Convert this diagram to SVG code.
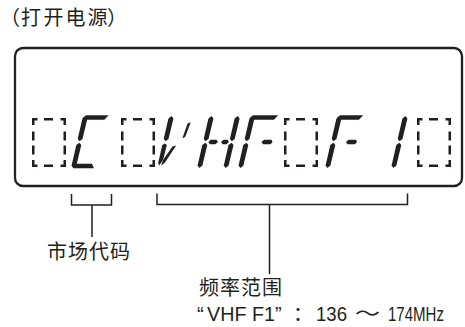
<svg xmlns="http://www.w3.org/2000/svg" xmlns:xlink="http://www.w3.org/1999/xlink" width="465" height="327" viewBox="0 0 465 327">
<style>
.txt{font-family:"Noto Sans CJK SC","Liberation Sans",sans-serif;font-size:20px;fill:#231f20}
.lat{font-family:"Liberation Sans","Noto Sans CJK SC",sans-serif;font-size:20px;fill:#231f20}
.seg{fill:#231f20}
.ln{stroke:#231f20;stroke-width:1.5;fill:none}
.box path{stroke:#231f20;stroke-width:2.5;fill:none;stroke-linecap:butt;stroke-linejoin:miter}
</style>
<defs>
<polygon id="vu" points="2.5,-26 5,-23.5 4.8,-3 2.4,-0.8 0,-3 0,-23.5"/>
<polygon id="vl" points="2.5,0.8 5,3 4.8,23.5 2.4,26 0,23.5 0,3"/>
<g id="dbox" class="box">
<path d="M1.25,7 V1.25 H5.5"/>
<path d="M12,1.25 H21"/>
<path d="M28.5,1.25 H32.75 V7"/>
<path d="M1.25,13.5 V22.5 M1.25,27.5 V36.5"/>
<path d="M32.75,13.5 V22.5 M32.75,27.5 V36.5"/>
<path d="M1.25,42 V47.75 H5.5"/>
<path d="M12,47.75 H21"/>
<path d="M28.5,47.75 H32.75 V42"/>
</g>
</defs>

<g id="title"><text class="txt" x="0 21 43.5 65.5 87.5 107" y="25">（打开电源）</text></g>

<g id="display">
<rect x="15" y="48" width="447" height="138" rx="8" ry="8" fill="none" stroke="#231f20" stroke-width="2.3"/>
</g>

<g id="blank1"><use xlink:href="#dbox" x="32" y="118"/></g>
<g id="blank2"><use xlink:href="#dbox" x="121" y="118"/></g>
<g id="blank3"><use xlink:href="#dbox" x="284" y="118"/></g>
<g id="blank4"><use xlink:href="#dbox" x="417" y="118"/></g>

<g id="charC" class="seg" transform="translate(77,142) skewX(-13)">
<polygon points="0.5,-24.5 3,-26.8 25.5,-26.8 22.2,-22.2 5,-22.2"/>
<use xlink:href="#vu"/>
<use xlink:href="#vl"/>
<polygon points="5,21.8 20,21.8 23,26.3 2.5,26.3 0.5,24"/>
</g>

<g id="charV" class="seg" transform="translate(163,142) skewX(-13)">
<use xlink:href="#vu"/>
<polygon points="20.3,-18.5 23.2,-19.8 21,-5 18.5,-3.8"/>
<polygon points="0,3 2.2,1.5 4.5,3 4.2,18 1.5,23.5 0,21"/>
<polygon points="10.5,4.5 14,3.5 6.5,21 3.5,23.5 4.2,18"/>
</g>

<g id="charH" class="seg" transform="translate(203,142) skewX(-13)">
<use xlink:href="#vu"/>
<use xlink:href="#vl"/>
<use xlink:href="#vu" x="26.2"/>
<use xlink:href="#vl" x="26.2"/>
<polygon points="5.3,0 7.3,-2.2 13,-2.2 15,0 13,2.2 7.3,2.2"/>
<polygon points="18,0 20,-2.2 24,-2.2 26,0 24,2.2 20,2.2"/>
</g>

<g id="charF1" class="seg" transform="translate(244,142) skewX(-13)">
<polygon points="0.5,-24.5 3,-26.8 28,-26.8 24.8,-22.2 5,-22.2"/>
<use xlink:href="#vu"/>
<use xlink:href="#vl"/>
<polygon points="17.5,0 19.5,-2.2 27,-2.2 28.5,0 27,2.2 19.5,2.2"/>
</g>

<g id="charF2" class="seg" transform="translate(331,142) skewX(-13)">
<polygon points="0.5,-24.5 3,-26.8 26,-26.8 22.8,-22.2 5,-22.2"/>
<use xlink:href="#vu"/>
<use xlink:href="#vl"/>
<polygon points="15,0 17,-2.2 24.5,-2.2 26,0 24.5,2.2 17,2.2"/>
</g>

<g id="char1" class="seg" transform="translate(397,142) skewX(-13)">
<use xlink:href="#vu"/>
<use xlink:href="#vl"/>
</g>

<g id="connectors">
<path class="ln" d="M71.5,194 V205 H111.5 V194"/>
<path class="ln" d="M92,205 V237"/>
<path class="ln" d="M157,193.5 V204.5 H407.5 V193.5"/>
<path class="ln" d="M269.5,204.5 V274"/>
</g>

<g id="label-market"><text class="txt" x="47 68 89 110" y="259">市场代码</text></g>

<g id="label-freq">
<text class="txt" x="199 220 241 262" y="295">频率范围</text>
<text class="lat" y="321"><tspan x="197">“</tspan><tspan x="207" textLength="68" lengthAdjust="spacingAndGlyphs">VHF F1</tspan><tspan x="275">”</tspan><tspan class="txt" x="293">：</tspan><tspan x="316" textLength="31" lengthAdjust="spacingAndGlyphs">136</tspan><tspan x="355" textLength="25" lengthAdjust="spacingAndGlyphs">～</tspan><tspan x="388" textLength="56" lengthAdjust="spacingAndGlyphs">174MHz</tspan></text>
</g>
</svg>
